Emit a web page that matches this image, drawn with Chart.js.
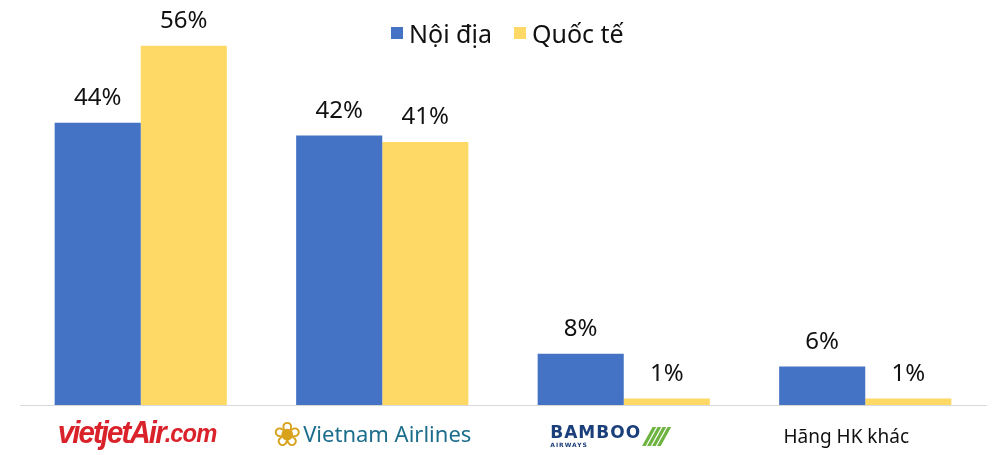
<!DOCTYPE html>
<html>
<head>
<meta charset="utf-8">
<script src="https://cdn.jsdelivr.net/npm/chart.js@4.4.1/dist/chart.umd.min.js"></script>
<style>
  html, body { margin: 0; padding: 0; background: #fff; }
  #wrap { position: relative; width: 993px; height: 455px; font-family: "Noto Sans", sans-serif; }
  #chart { position: absolute; left: 0; top: 0; }
  .legend { position: absolute; top: 16px; left: 391px; display: flex; align-items: center; font-size: 25px; color: #111; }
  .legend .sw { width: 12px; height: 12px; display: inline-block; margin-right: 6px; }
  .legend .item { display: flex; align-items: center; margin-right: 22px; }
  .lbl { position: absolute; top: 418px; transform: translateX(-50%); white-space: nowrap; display: flex; align-items: center; }
  .vj { font-family: "Liberation Sans", sans-serif; font-weight: bold; font-style: italic; color: #d9222a; font-size: 31px; letter-spacing: -2px; transform: translateX(-50%) scaleX(0.95); top: 415px; }
  .vj small { font-size: 25px; letter-spacing: -1px; }
  .vna { font-family: "Noto Sans", sans-serif; color: #1c6d8c; font-size: 22px; top: 416px; }
  .vna .lotus { color: #d9a21b; font-size: 34px; margin-right: 2px; line-height: 1; }
  .bb .name { display: flex; flex-direction: column; line-height: 1; }
  .bb .b1 { font-family: "DejaVu Sans", sans-serif; font-weight: bold; color: #1b3f7a; font-size: 17px; letter-spacing: 1px; }
  .bb .b2 { font-family: "DejaVu Sans", sans-serif; font-weight: bold; color: #1b3f7a; font-size: 6px; letter-spacing: 1px; margin-top: 1px; }
  .bb .tail { color: #6cb33f; font-size: 26px; font-weight: bold; font-style: italic; margin-left: 2px; letter-spacing: -6px; }
  .hk { font-size: 19px; color: #111; top: 423px; }
</style>
</head>
<body>
<div id="wrap">
  <canvas id="chart" width="993" height="455"></canvas>
  <div class="legend">
    <span class="item"><span class="sw" style="background:#4472C4"></span>Nội địa</span>
    <span class="item"><span class="sw" style="background:#FFD966"></span>Quốc tế</span>
  </div>
  <div id="labels"></div>
</div>
<script>
const categories = ["vietjetAir.com", "Vietnam Airlines", "BAMBOO AIRWAYS", "Hãng HK khác"];
const seriesNames = ["Nội địa", "Quốc tế"];
const noiDia = [44, 42, 8, 6];
const quocTe = [56, 41, 1, 1];
const colors = ["#4472C4", "#FFD966"];

// nhãn giá trị trên cột
const valueLabels = {
  id: "valueLabels",
  afterDatasetsDraw(chart) {
    const ctx = chart.ctx;
    ctx.save();
    ctx.font = '24px "Noto Sans", sans-serif';
    ctx.fillStyle = "#111";
    ctx.textAlign = "center";
    ctx.textBaseline = "alphabetic";
    chart.data.datasets.forEach((ds, i) => {
      chart.getDatasetMeta(i).data.forEach((bar, j) => {
        ctx.fillText(ds.data[j] + "%", bar.x, bar.y - 18);
      });
    });
    ctx.restore();
  },
};

// nhãn trục x (logo dạng chữ)
const axisLabels = {
  id: "axisLabels",
  afterLayout(chart) {
    const box = document.getElementById("labels");
    box.innerHTML = "";
    const xs = chart.scales.x;
    const html = [
      '<div class="lbl vj">vietjet<span>Air</span><small>.com</small></div>',
      '<div class="lbl vna"><span class="lotus">❀</span>Vietnam Airlines</div>',
      '<div class="lbl bb"><span class="name"><span class="b1">BAMBOO</span><span class="b2">AIRWAYS</span></span><span class="tail">////</span></div>',
      '<div class="lbl hk">Hãng HK khác</div>',
    ];
    const shift = [-4, -10, -17, -19];
    categories.forEach((c, i) => {
      const d = document.createElement("div");
      d.innerHTML = html[i];
      const el = d.firstChild;
      el.style.left = xs.getPixelForValue(i) + shift[i] + "px";
      box.appendChild(el);
    });
  },
};

new Chart(document.getElementById("chart"), {
  type: "bar",
  data: {
    labels: categories,
    datasets: [
      { label: seriesNames[0], data: noiDia, backgroundColor: colors[0] },
      { label: seriesNames[1], data: quocTe, backgroundColor: colors[1] },
    ],
  },
  options: {
    responsive: false,
    animation: false,
    layout: { padding: { left: 20, right: 7, top: 20, bottom: 42 } },
    datasets: { bar: { categoryPercentage: 0.713, barPercentage: 1 } },
    scales: {
      x: {
        grid: { display: false },
        border: { display: true, color: "#D9D9D9", width: 1 },
        ticks: { display: false },
      },
      y: { display: false, min: 0, max: 60 },
    },
    plugins: { legend: { display: false }, tooltip: { enabled: false } },
  },
  plugins: [valueLabels, axisLabels],
});
</script>
</body>
</html>
